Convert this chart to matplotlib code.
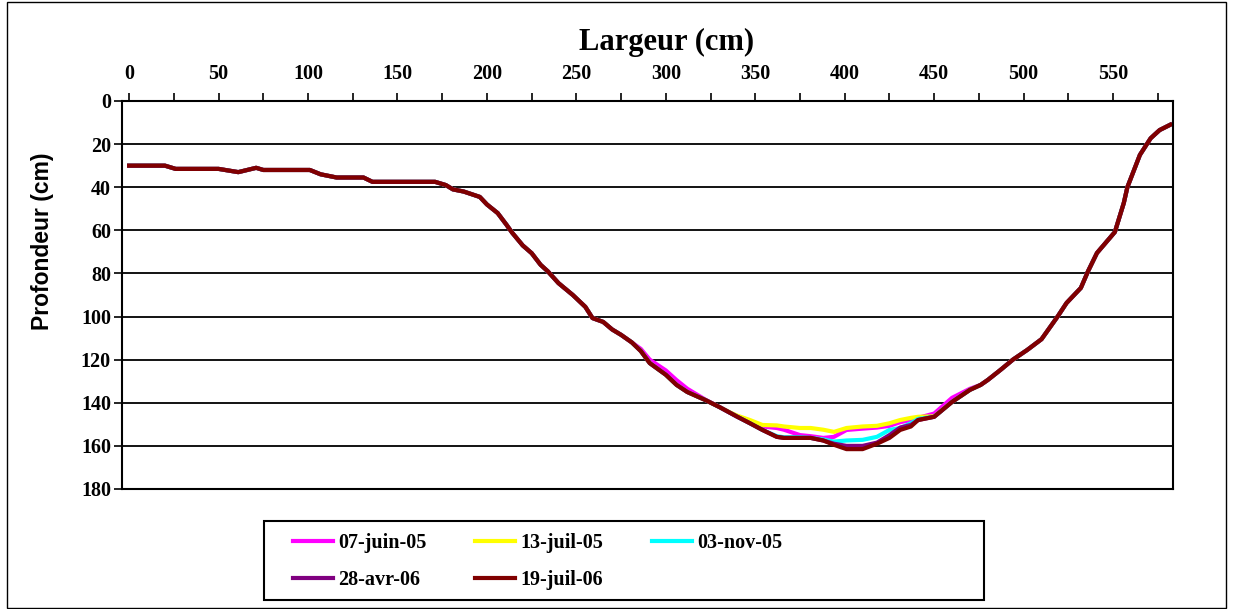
import numpy as np
import matplotlib.pyplot as plt
from matplotlib.patches import Rectangle

# shared part of the profile (left bank and right bank)
x_left = [0, 10, 20, 26, 35, 50, 61, 71, 75, 85, 101, 107, 116, 125, 131, 136, 150, 160, 171,
          177, 181, 187, 196, 200, 206, 211, 214, 220, 225, 230, 234, 240, 248, 255, 259, 265,
          270, 275, 281]
d_left = [30, 30, 30, 31.5, 31.5, 31.5, 33, 31, 32, 32, 32, 34, 35.5, 35.5, 35.5, 37.5, 37.5, 37.5, 37.5,
          39, 41, 42, 44.5, 48, 52, 57.5, 61, 67, 70.6, 76, 79, 84.5, 90, 95.5, 100.7, 102.5,
          106, 108.5, 112]

x_right = [476, 480, 487, 494, 502, 510, 519, 524, 532, 536, 541, 551, 556, 558, 565, 571, 576, 582]
d_right = [131.7, 129.4, 124.8, 120, 115.5, 110.5, 100, 93.7, 86.7, 79, 70.5, 60.8, 47.3, 40,
           25, 17.3, 13.5, 11]

# bottom of the channel, where the surveys differ
x_bottom = [286, 291, 300, 306, 312, 322, 330, 336, 340, 347, 354, 362, 366, 375, 381, 388, 394,
            401, 410, 418, 425, 431, 437, 441, 450, 460, 470]
d_jun05 = [115, 120, 125, 129.5, 133.5, 138.5, 142, 144.7, 146.5, 149, 151, 151.7, 152.5, 155, 155.5,
           156.3, 155.8, 152.6, 152, 151.5, 150.7, 149, 148, 147, 145, 137.7, 133.5]
d_jul05 = [116, 121.6, 127, 131.7, 135, 138.7, 142, 144.5, 146, 148, 150.3, 150.5, 151, 151.7, 151.7,
           152.5, 153.5, 151.7, 151, 150.7, 149.5, 148, 147, 146.5, 146.3, 139.6, 134]
d_nov05 = [116, 121.6, 127, 131.7, 135, 138.7, 142, 144.7, 146.5, 149.5, 152.6, 155.5, 156, 156, 156.3,
           157, 158, 157.5, 157.2, 155.8, 152.6, 151.7, 149.5, 147.5, 146.5, 139.6, 134]
d_apr06 = [116, 121.6, 127, 131.7, 135, 138.7, 142, 144.7, 146.5, 149.5, 152.6, 155.8, 156.3, 156.3,
           156.3, 157.5, 159, 160, 160, 158.5, 155, 151.5, 150.3, 148, 146.5, 139.6, 134]
d_jul06 = [116, 121.6, 127, 131.7, 135, 138.7, 142, 144.7, 146.5, 149.5, 152.6, 155.8, 156.3, 156.3,
           156.3, 157.5, 159.5, 161.5, 161.5, 159, 156.3, 152.6, 151, 148, 146.5, 139.6, 134]

labels = ['07-juin-05', '13-juil-05', '03-nov-05', '28-avr-06', '19-juil-06']
colors = ['#ff00ff', '#ffff00', '#00ffff', '#800080', '#800000']
bottoms = [d_jun05, d_jul05, d_nov05, d_apr06, d_jul06]

serif = 'Liberation Serif'
sans = 'Liberation Sans'

fig = plt.figure(figsize=(12.34, 6.09), dpi=100)
ax = fig.add_axes([122 / 1234, 1 - 489 / 609, (1173 - 122) / 1234, (489 - 101) / 609])

x_all = np.array(x_left + x_bottom + x_right)
handles = []
for lab, col, bot in zip(labels, colors, bottoms):
    d_all = np.array(d_left + bot + d_right)
    h, = ax.plot(x_all, d_all, color=col, lw=3, label=lab, solid_joinstyle='round')
    handles.append(h)

ax.set_xlim(-4, 583.5)
ax.set_ylim(180, 0)
ax.set_yticks(np.arange(0, 181, 20))
ax.set_xticks(np.arange(0, 551, 50))
ax.set_xticks(np.arange(0, 583, 25), minor=True)
ax.xaxis.tick_top()
ax.xaxis.set_label_position('top')
ax.tick_params(axis='x', which='both', direction='out', length=6, width=1.2, pad=6)
ax.tick_params(axis='y', direction='out', length=6, width=1.2, pad=2)
for t in ax.get_xticklabels() + ax.get_yticklabels():
    t.set_fontfamily(serif)
    t.set_fontweight('bold')
    t.set_fontsize(14.5)
ax.grid(axis='y', color='black', lw=1.3)
ax.set_axisbelow(True)
for s in ax.spines.values():
    s.set_color('black')
    s.set_linewidth(1.5)

ax.set_xlabel('Largeur (cm)', fontfamily=serif, fontweight='bold', fontsize=22, labelpad=10)
ax.xaxis.label.set_x((667 - 122) / 1051)
ax.set_ylabel('Profondeur (cm)', fontfamily=sans, fontweight='bold', fontsize=16.5, labelpad=19)
ax.yaxis.label.set_y((489 - 241) / 388)

# legend filled row by row like the original
order = [0, 3, 1, 4, 2]
leg = fig.legend([handles[i] for i in order], [labels[i] for i in order],
                 loc='upper left', bbox_to_anchor=(293 / 1234, 1 - 533 / 609), ncol=3,
                 frameon=False, prop={'family': serif, 'weight': 'bold', 'size': 14.5},
                 handlelength=2.0, handletextpad=0.25, columnspacing=2.4,
                 borderpad=0, borderaxespad=0, labelspacing=0.85)

fig.patches.append(Rectangle((264 / 1234, 1 - 600 / 609), 720 / 1234, 79 / 609,
                             transform=fig.transFigure, fill=False, edgecolor='black', lw=1.5))
fig.patches.append(Rectangle((7 / 1234, 1 / 609), (1226 - 7) / 1234, 606 / 609,
                             transform=fig.transFigure, fill=False, edgecolor='black', lw=1))

fig.savefig('out.png', dpi=100)
